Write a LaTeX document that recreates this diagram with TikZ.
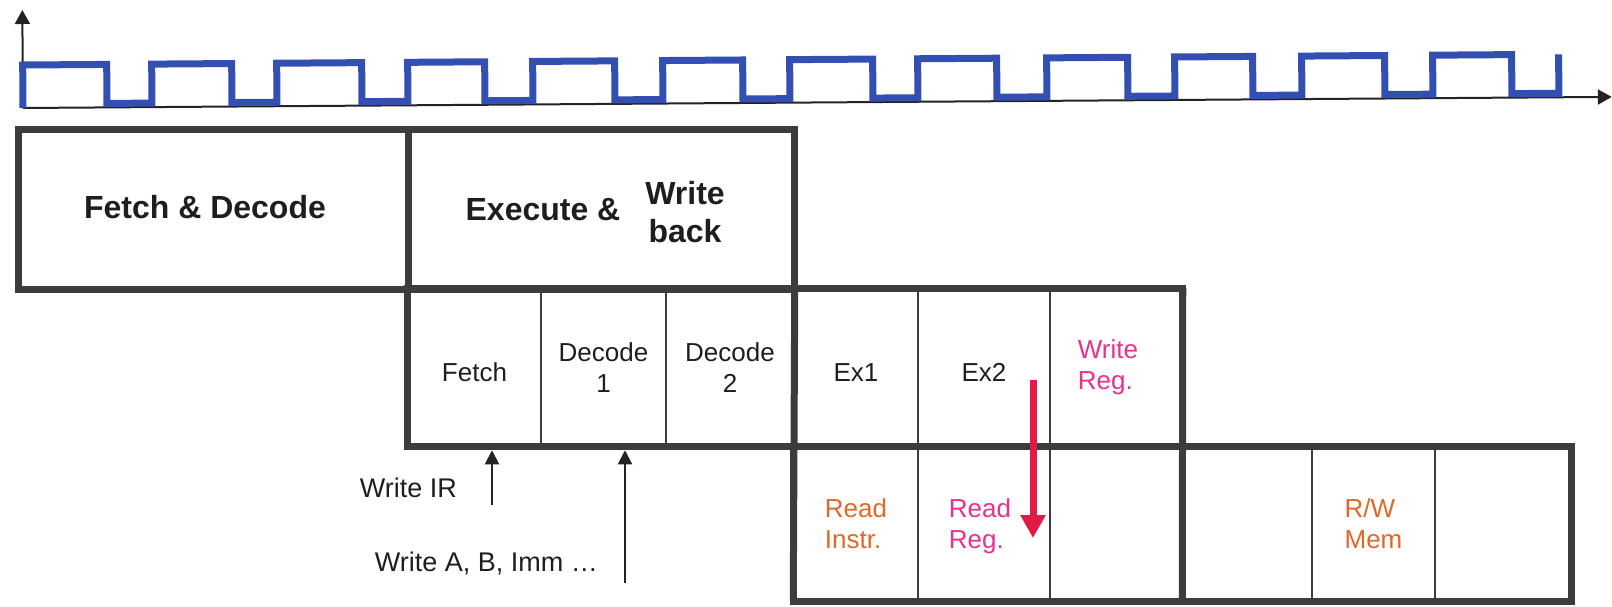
\documentclass[tikz,border=0pt]{standalone}
\usepackage{fontspec}
\setmainfont{Liberation Sans}
\usetikzlibrary{arrows.meta}
\definecolor{boxgray}{RGB}{60,60,60}
\definecolor{axisgray}{RGB}{35,35,35}
\definecolor{clockblue}{RGB}{51,79,178}
\definecolor{redarrow}{RGB}{226,26,68}
\definecolor{pinktext}{RGB}{232,48,140}
\definecolor{orangetext}{RGB}{224,104,40}
\definecolor{txt}{RGB}{30,30,30}
\begin{document}
\begin{tikzpicture}[x=1pt,y=-1pt,
  cell/.style={draw=boxgray, line width=1.5pt, inner sep=0pt, align=center,
    font=\fontsize{26}{31}\selectfont, text=txt},
  oneline/.style={text height=27pt, text depth=0pt},
  bigcell/.style={inner sep=0pt, minimum height=159pt},
  bigtext/.style={inner sep=0pt, align=center, font=\fontsize{32}{38}\selectfont\bfseries, text=txt},
  smalltext/.style={inner sep=0pt, font=\fontsize{26}{31}\selectfont, text=txt},
  labeltext/.style={inner sep=0pt, font=\fontsize{27}{32}\selectfont, text=txt},
  thickline/.style={draw=boxgray, line width=7pt, line join=miter},
  axisline/.style={draw=axisgray, line width=2pt, -{Triangle[width=15pt,length=14pt]}},
  uparrow/.style={draw=axisgray, line width=2pt, -{Triangle[width=14pt,length=14pt]}},
  clockwave/.style={draw=clockblue, line width=7pt, line join=miter},
  redarr/.style={draw=redarrow, line width=7pt, -{Triangle[width=24pt,length=23pt]}}
]
\useasboundingbox (0,0) rectangle (1612,606);

% ---- clock ----
\begin{scope}[rotate around={0.4:(23,108)}]
  \coordinate (org) at (23,108);
  \coordinate (ytip) at (23,10);
  \coordinate (xtip) at (1612,108);
  \draw[axisline] (org) -- (ytip);
  \draw[axisline] (org) -- (xtip);
  \def\H{65}\def\L{104}
  \draw[clockwave] (23,108) -- (23,\H) -- (107,\H) -- (107,\L) -- (152,\L) -- (152,\H)
    -- (232,\H) -- (232,\L) -- (277,\L) -- (277,\H) -- (362,\H) -- (362,\L)
    -- (408,\L) -- (408,\H) -- (485,\H) -- (485,\L) -- (533,\L) -- (533,\H)
    -- (615,\H) -- (615,\L) -- (663,\L) -- (663,\H) -- (743,\H) -- (743,\L)
    -- (790,\L) -- (790,\H) -- (873,\H) -- (873,\L) -- (918,\L) -- (918,\H)
    -- (997,\H) -- (997,\L) -- (1047,\L) -- (1047,\H) -- (1128,\H) -- (1128,\L)
    -- (1175,\L) -- (1175,\H) -- (1253,\H) -- (1253,\L) -- (1302,\L) -- (1302,\H)
    -- (1385,\H) -- (1385,\L) -- (1433,\L) -- (1433,\H) -- (1512,\H) -- (1512,\L)
    -- (1559,\L) -- (1559,\H);
\end{scope}

% ---- row 1 ----
\node[bigcell, minimum width=389pt] (fd) at (213.5,209.5) {};
\node[bigcell, minimum width=386pt] (ex) at (601,209.5) {};
\node[bigtext] (fdtext) at (205,207) {Fetch \& Decode};
\node[bigtext] (extext) at (543,210) {Execute \&};
\node[bigtext] (wbtext) at (685,212) {Write\\back};

% ---- row 2 ----
\node[cell, oneline, minimum width=133pt, minimum height=157pt] (fetch) at (474.5,367.5) {Fetch};
\node[cell, minimum width=125pt, minimum height=157pt] (dec1) at (603.5,367.5) {Decode\\1};
\node[cell, minimum width=128pt, minimum height=157pt] (dec2) at (730,367.5) {Decode\\2};
\node[cell, oneline, minimum width=124pt, minimum height=157pt] (ex1) at (856,367.5) {Ex1};
\node[cell, oneline, minimum width=132pt, minimum height=157pt] (ex2) at (984,367.5) {Ex2};
\node[cell, minimum width=132pt, minimum height=157pt] (wreg) at (1116,367.5) {};
\node[smalltext, align=left, text=pinktext] (wregtext) at (1108,367) {Write\\Reg.};

% ---- row 3 ----
\node[cell, minimum width=124pt, minimum height=153pt, align=left, text=orangetext] (rinstr) at (856,524) {Read\\Instr.};
\node[cell, minimum width=132pt, minimum height=153pt] (rreg) at (984,524) {};
\node[smalltext, align=left, text=pinktext] (rregtext) at (980,526) {Read\\Reg.};
\node[cell, minimum width=133pt, minimum height=153pt] (c3) at (1116.5,524) {};
\node[cell, minimum width=129pt, minimum height=153pt] (c4) at (1247.5,524) {};
\node[cell, minimum width=123pt, minimum height=153pt, align=left, text=orangetext] (rwmem) at (1373.5,524) {R/W\\Mem};
\node[cell, minimum width=136pt, minimum height=153pt] (c6) at (1503,524) {};

% ---- thick outlines ----
\draw[thickline] (fd.north west) rectangle (ex.south east);
\draw[thickline] (fd.north east) -- (fd.south east);
\draw[thickline] (fetch.north west) rectangle (wreg.south east);
\draw[thickline] (dec2.north east) -- (rinstr.south west);
\draw[thickline] (rinstr.north west) rectangle (c6.south east);
\draw[thickline] (wreg.north east) -- (c4.south west);

% ---- write arrows ----
\node[labeltext, anchor=east] (wir) at (457,488) {Write IR};
\node[labeltext, anchor=east] (wab) at (598,563) {Write A, B, Imm …};
\coordinate (wirstart) at (492,505);
\coordinate (wabstart) at (625,583);
\draw[uparrow, shorten >=3.5pt] (wirstart) -- (wirstart |- fetch.south);
\draw[uparrow, shorten >=3.5pt] (wabstart) -- (wabstart |- dec1.south);

% ---- red arrow ----
\coordinate (rstart) at (1033,380);
\coordinate (rend) at (1033,538);
\draw[redarr] (rstart) -- (rend);
\end{tikzpicture}
\end{document}
